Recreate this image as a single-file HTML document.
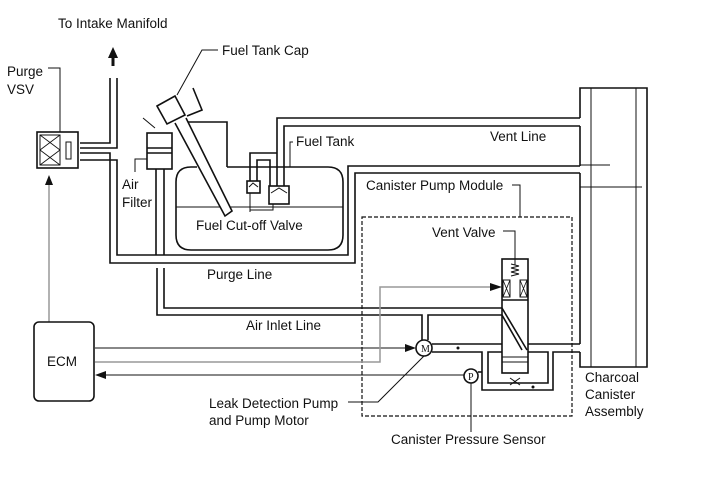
<!DOCTYPE html>
<html><head><meta charset="utf-8"><style>html,body{margin:0;padding:0;background:#fff}svg{display:block}text{font-family:"Liberation Sans",sans-serif;font-size:13.5px;fill:#111}</style></head>
<body>
<svg width="713" height="481" viewBox="0 0 713 481" xmlns="http://www.w3.org/2000/svg">
<g fill="none" stroke="#111" stroke-width="1.6">
<polyline points="580,118 580,88 647,88 647,367 580,367 580,352"/>
<line x1="580" y1="126" x2="580" y2="166"/>
<line x1="580" y1="173" x2="580" y2="344"/>
<line x1="591" y1="88" x2="591" y2="367" stroke-width="1"/>
<line x1="636" y1="88" x2="636" y2="367" stroke-width="1"/>
<line x1="580" y1="165" x2="610" y2="165" stroke-width="1"/>
<line x1="580" y1="187" x2="642" y2="187" stroke-width="1"/>
<polyline points="580,118 277,118 277,186"/>
<polyline points="580,126 284,126 284,186"/>
<polyline points="80,153 110,153 110,263 355,263 355,173 580,173"/>
<polyline points="80,160 117,160 117,255 348,255 348,166 580,166"/>
<polyline points="80,143 110,143 110,78"/>
<polyline points="80,148 117,148 117,78"/>
<path d="M227,167 L328,167 Q343,167 343,182 L343,235 Q343,250 328,250 L191,250 Q176,250 176,235 L176,182 Q176,167 191,167 L197,167"/>
<line x1="176" y1="207" x2="343" y2="207" stroke-width="1"/>
<polyline points="188,122 227,122 227,167"/>
<polyline points="175,123 225,216 232,211 186,118" fill="#fff"/>
<polygon points="157,106 175,96 185,115 167,124" fill="#fff"/>
<polyline points="193,88 202,110 187,116"/>
<rect x="247" y="181" width="13" height="12" fill="#fff"/>
<polyline points="249,187 253,183 258,187" stroke-width="1"/>
<rect x="269" y="186" width="20" height="18" fill="#fff"/>
<polyline points="271,193 279,188 287,193" stroke-width="1"/>
<polyline points="250,181 250,153 277,153"/>
<polyline points="257,181 257,160 270,160 270,186"/>
<polyline points="250,193 250,212" stroke-width="1"/>
<polyline points="273,204 273,210 250,210" stroke-width="1"/>
<rect x="147" y="133" width="25" height="36" fill="#fff"/>
<line x1="147" y1="148" x2="172" y2="148"/>
<line x1="147" y1="153" x2="172" y2="153"/>
<line x1="143" y1="118" x2="155" y2="128" stroke-width="1"/>
<line x1="156" y1="169" x2="156" y2="255"/>
<line x1="164" y1="169" x2="164" y2="255"/>
<polyline points="135,172 135,159 147,159" stroke-width="1"/>
<polyline points="157,268 157,315 422,315 422,340"/>
<polyline points="164,268 164,308 502,308 527,350"/>
<polyline points="428,340 428,315 502,315 522,350"/>
<rect x="502" y="259" width="26" height="114"/>
<line x1="502" y1="300" x2="528" y2="300"/>
<line x1="502" y1="357" x2="528" y2="357" stroke-width="1"/>
<line x1="502" y1="362" x2="528" y2="362" stroke-width="1"/>
<polyline points="511,264 519,266 511,268 519,270 511,272 519,274 511,276" stroke-width="1"/>
<rect x="503" y="280" width="7" height="17" stroke-width="1"/>
<rect x="520" y="280" width="7" height="17" stroke-width="1"/>
<path d="M503,280 L510,297 M510,280 L503,297 M520,280 L527,297 M527,280 L520,297" stroke-width="0.8"/>
<polyline points="528,344 580,344"/>
<polyline points="432,344 502,344"/>
<polyline points="432,352 482,352 482,390 553,390 553,352 580,352"/>
<polyline points="528,352 548,352 548,383 488,383 488,352 502,352"/>
<path d="M510,378 L520,385 M510,385 L520,378" stroke-width="1"/>
<circle cx="424" cy="348" r="8" fill="#fff"/>
<circle cx="471" cy="376" r="7" fill="#fff"/>
<polyline points="478,372 482,372"/>
<rect x="362" y="217" width="210" height="199" stroke-dasharray="4,2" stroke-width="1.2"/>
<line x1="95" y1="348" x2="408" y2="348" stroke-width="1"/>
<line x1="464" y1="375" x2="102" y2="375" stroke-width="1"/>
<polyline points="95,362 380,362 380,287 494,287" stroke="#999" stroke-width="1.5"/>
<line x1="49" y1="322" x2="49" y2="184" stroke="#999" stroke-width="1.5"/>
<rect x="34" y="322" width="60" height="79" rx="5" fill="#fff"/>
<rect x="37" y="132" width="41" height="36" fill="#fff"/>
<rect x="40" y="135" width="20" height="30" stroke-width="1"/>
<path d="M40,135 L60,150 M60,135 L40,150 M40,150 L60,165 M60,150 L40,165" stroke-width="0.8"/>
<rect x="66" y="142" width="5" height="17" stroke-width="1"/>
<polyline points="60,132 60,68 48,68" stroke-width="1"/>
<polyline points="177,95 202,50 218,50" stroke-width="1"/>
<polyline points="293,142 290,142 290,167" stroke-width="1"/>
<polyline points="512,185 520,185 520,217" stroke-width="1"/>
<polyline points="503,231 515,231 515,265" stroke-width="1"/>
<polyline points="348,402 378,402 424,356" stroke-width="1"/>
<polyline points="471,383 471,432" stroke-width="1"/>
</g>
<g fill="#111" stroke="none">
<polygon points="113,47 108,58 118,58"/><rect x="111.5" y="57" width="3" height="9"/>
<polygon points="49,175 45,185 53,185"/>
<polygon points="416,348 405,344 405,352"/>
<polygon points="95,375 106,371 106,379"/>
<polygon points="502,287 490,283 490,291"/>
<circle cx="458" cy="348" r="1.5"/><circle cx="533" cy="387" r="1.5"/>
</g>
<text x="421" y="352" style="font-size:10px;font-family:'Liberation Serif',serif">M</text>
<text x="468" y="380" style="font-size:10px;font-family:'Liberation Serif',serif">P</text>
<text x="58" y="28">To Intake Manifold</text>
<text x="222" y="55">Fuel Tank Cap</text>
<text x="7" y="76">Purge</text>
<text x="7" y="94">VSV</text>
<text x="296" y="146">Fuel Tank</text>
<text x="490" y="141">Vent Line</text>
<text x="366" y="190">Canister Pump Module</text>
<text x="122" y="189">Air</text>
<text x="122" y="207">Filter</text>
<text x="196" y="230">Fuel Cut-off Valve</text>
<text x="432" y="237">Vent Valve</text>
<text x="207" y="279">Purge Line</text>
<text x="246" y="330">Air Inlet Line</text>
<text x="47" y="366">ECM</text>
<text x="209" y="408">Leak Detection Pump</text>
<text x="209" y="425">and Pump Motor</text>
<text x="585" y="382">Charcoal</text>
<text x="585" y="399">Canister</text>
<text x="585" y="416">Assembly</text>
<text x="391" y="444">Canister Pressure Sensor</text>
</svg>
</body></html>
